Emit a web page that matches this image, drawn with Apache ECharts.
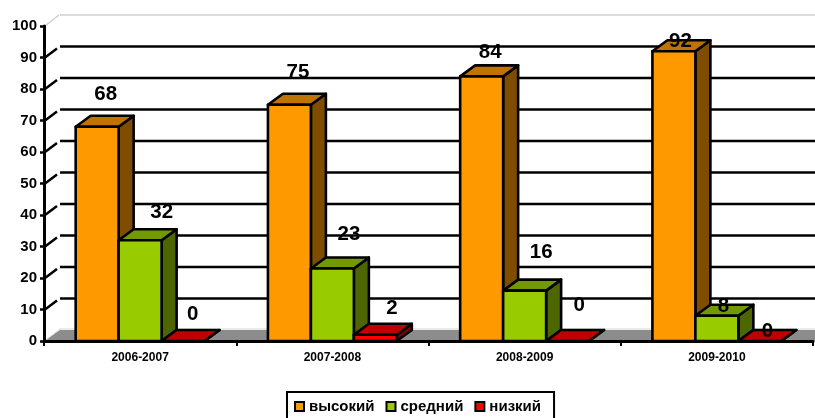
<!DOCTYPE html>
<html><head><meta charset="utf-8">
<style>html,body{margin:0;padding:0;background:#fff}#c{width:815px;height:418px}</style>
<script src="https://cdn.jsdelivr.net/npm/echarts@6/dist/echarts.min.js"></script>
</head><body><div id="c"></div>
<script>
const categories = ['2006-2007','2007-2008','2008-2009','2009-2010'];
const highValues = [68,75,84,92];
const midValues = [32,23,16,8];
const lowValues = [0,2,0,0];
const gridTicks = [0,10,20,30,40,50,60,70,80,90,100];

const FONT = '"Liberation Sans", Arial, sans-serif';
const DX = 15, DY = -11, WALL_DX = 16, WALL_DY = -11;
const BAR_RATIO = 0.2235;
const labelNudgeHigh = [[8.5,-32],[8.5,-32],[8.5,-24],[6.5,-10]];
const labelNudgeMid = [[21.5,-28],[16.5,-34],[16.5,-38.5],[6.5,-9]];
const labelNudgeLow = [[9.5,-27],[16.5,-26],[11.5,-36],[7.5,-10]];

const chart = echarts.init(document.getElementById('c'), null, {renderer:'canvas'});

function wallItem(params, api){
  const v = api.value(1);
  const cs = params.coordSys;
  const y = api.coord([0, v])[1];
  const x0 = cs.x, x1 = cs.x + cs.width + 2;
  const bx = x0 + WALL_DX, by = y + WALL_DY;
  const kids = [];
  if (v === 0) {
    kids.push({type:'polygon', shape:{points:[[x0,y],[bx,by],[x1,by],[x1,y]]}, style:{fill:'#8c8c8c'}});
    kids.push({type:'line', shape:{x1:bx,y1:by-1,x2:x1,y2:by-1}, style:{stroke:'#d4d4d4',lineWidth:1}});
    kids.push({type:'line', shape:{x1:x0+2,y1:y-1,x2:bx,y2:by-1}, style:{stroke:'#d4d4d4',lineWidth:1}});
  } else if (v === 100) {
    kids.push({type:'line', shape:{x1:bx,y1:by,x2:x1,y2:by}, style:{stroke:'#cfcfcf',lineWidth:1.5}});
    kids.push({type:'line', shape:{x1:x0+1,y1:y,x2:bx-1,y2:by}, style:{stroke:'#cfcfcf',lineWidth:1.5}});
  } else {
    kids.push({type:'line', shape:{x1:bx,y1:by,x2:x1,y2:by}, style:{stroke:'#000',lineWidth:2.5}});
    kids.push({type:'line', shape:{x1:x0+1,y1:y,x2:bx-3,y2:by+2}, style:{stroke:'#000',lineWidth:2.5}});
  }
  return {type:'group', children:kids};
}

function barSeries(name, values, pos, front, top, side, nudge){
  return {
    name, type:'custom', z:2, coordinateSystem:'cartesian2d', clip:false,
    itemStyle:{color:front},
    data: values.map((v,i)=>[i,v]),
    encode:{x:0,y:1},
    renderItem(params, api){
      const i = api.value(0), v = api.value(1);
      const p = api.coord([i, v]), b = api.coord([i, 0]);
      const w = api.size([1,0])[0] * BAR_RATIO;
      const cx = p[0] + pos * w, l = cx - w/2, r = cx + w/2, t = p[1], bt = b[1];
      const ln = {stroke:'#000', lineWidth:2.6, lineJoin:'round'};
      const kids = [];
      kids.push({type:'polygon', shape:{points:[[r,bt],[r+DX,bt+DY],[r+DX,t+DY],[r,t]]}, style:Object.assign({fill:side},ln)});
      kids.push({type:'polygon', shape:{points:[[l,t],[l+DX,t+DY],[r+DX,t+DY],[r,t]]}, style:Object.assign({fill:top},ln)});
      if (bt - t > 0.5) kids.push({type:'rect', shape:{x:l,y:t,width:w,height:bt-t}, style:Object.assign({fill:front},ln)});
      const n = nudge[i];
      kids.push({type:'text', z2:100, style:{text:String(v), x:cx+n[0], y:t+n[1], align:'center', verticalAlign:'middle',
        font:'bold 20.5px '+FONT, fill:'#000'}});
      return {type:'group', children:kids};
    }
  };
}

chart.setOption({
  animation:false,
  backgroundColor:'#fff',
  grid:{left:44,right:2,top:26,bottom:77,containLabel:false},
  xAxis:{type:'category',data:categories,z:3,
    axisLine:{lineStyle:{color:'#000',width:3}},
    axisTick:{show:true,alignWithLabel:false,length:5,lineStyle:{color:'#000',width:2}},
    axisLabel:{fontFamily:FONT,fontWeight:'bold',fontSize:12,color:'#000',margin:11},
    splitLine:{show:false}},
  yAxis:{type:'value',min:0,max:100,interval:10,z:3,
    axisLine:{show:true,lineStyle:{color:'#000',width:3}},
    axisTick:{show:true,length:4,lineStyle:{color:'#000',width:2.5}},
    axisLabel:{fontFamily:FONT,fontWeight:'bold',fontSize:15,color:'#000',margin:7},
    splitLine:{show:false}},
  legend:{show:true,selectedMode:false,left:287,top:392,
    data:['высокий','средний','низкий'],
    orient:'horizontal',icon:'rect',itemWidth:9,itemHeight:9,itemGap:11,
    padding:[7,13,18,7],borderColor:'#000',borderWidth:2,backgroundColor:'#fff',
    itemStyle:{borderColor:'#000',borderWidth:2},
    textStyle:{fontFamily:FONT,fontWeight:'bold',fontSize:15,color:'#000'}},
  series:[
    {type:'custom',name:'wall',z:1,silent:true,clip:false,
     data:gridTicks.map(v=>[0,v]),encode:{x:0,y:1},renderItem:wallItem},
    barSeries('высокий',highValues,-1,'#ff9900','#c07300','#7f4d00',labelNudgeHigh),
    barSeries('средний',midValues,0,'#99cc00','#739900','#4d6600',labelNudgeMid),
    barSeries('низкий',lowValues,1,'#ff0000','#c00000','#800000',labelNudgeLow)
  ]
});
</script></body></html>
